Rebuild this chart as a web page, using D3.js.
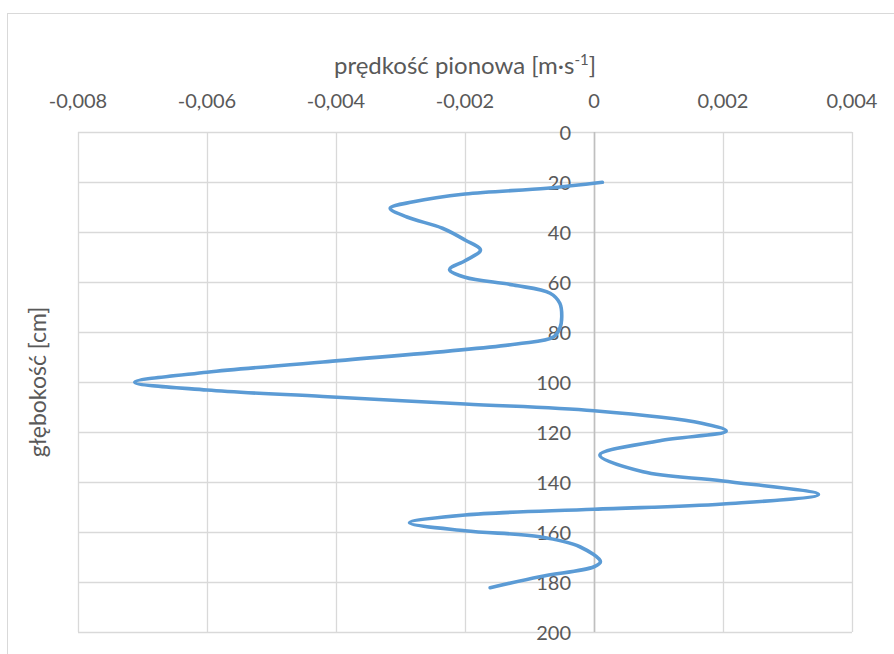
<!DOCTYPE html>
<html>
<head>
<meta charset="utf-8">
<script src="https://cdn.jsdelivr.net/npm/d3@7"></script>
<style>
  html, body { margin: 0; padding: 0; background: #ffffff; }
  svg { display: block; }
  text { font-family: Lato, "Open Sans", sans-serif; fill: #595959; }
</style>
</head>
<body>
<svg id="chart" width="894" height="654"></svg>
<script>
// ---- data ----
const depth = [20.1, 22.5, 24.8, 27.9, 30.5, 34.0, 38.5, 43.2, 47.2, 51.5, 55.0, 58.1, 61.2, 64.5, 68.5, 73.9, 78.5, 82.0, 84.8, 92.0, 96.1, 100.1, 103.2, 105.8, 108.8, 111.5, 116.5, 119.6, 123.5, 129.2, 135.9, 139.6, 145.0, 148.8, 150.9, 153.2, 156.3, 159.5, 161.9, 165.9, 171.9, 173.9, 177.9, 182.3];
const velocity = [0.00013, -0.00073, -0.0020, -0.0028, -0.00316, -0.0029, -0.00235, -0.0020, -0.00176, -0.0020, -0.00224, -0.0020, -0.00125, -0.00068, -0.00053, -0.0005, -0.00053, -0.00063, -0.0012, -0.0042, -0.0060, -0.00712, -0.0060, -0.0042, -0.0020, 0.0, 0.00167, 0.00205, 0.00102, 0.00009, 0.00076, 0.0020, 0.00348, 0.0020, 0.0, -0.0020, -0.00286, -0.0020, -0.00084, -0.00022, 0.0001, 0.0, -0.00084, -0.00161];
const xTicks = [-0.008, -0.006, -0.004, -0.002, 0, 0.002, 0.004];
const yTicks = [0, 20, 40, 60, 80, 100, 120, 140, 160, 180, 200];
const xTitle = "prędkość pionowa [m·s";
const xTitleSup = "-1";
const yTitle = "głębokość [cm]";

const svg = d3.select("#chart");

// outer chart frame
svg.append("rect")
  .attr("x", 7.5).attr("y", 13.5)
  .attr("width", 1000).attr("height", 1000)
  .attr("fill", "none").attr("stroke", "#D9D9D9").attr("stroke-width", 1);

const x = d3.scaleLinear().domain([-0.008, 0.004]).range([78, 852]);
const y = d3.scaleLinear().domain([0, 200]).range([132, 632]);

const fmtX = d => d === 0 ? "0" : (d < 0 ? "-" : "") + Math.abs(d).toFixed(3).replace(".", ",");

// vertical gridlines
svg.append("g").selectAll("line").data(xTicks).join("line")
  .attr("x1", d => Math.round(x(d)) + 0.5).attr("x2", d => Math.round(x(d)) + 0.5)
  .attr("y1", y(0)).attr("y2", y(200))
  .attr("stroke", "#D9D9D9").attr("stroke-width", 1.3);

// horizontal gridlines
svg.append("g").selectAll("line").data(yTicks).join("line")
  .attr("y1", d => Math.round(y(d)) + 0.5).attr("y2", d => Math.round(y(d)) + 0.5)
  .attr("x1", x(-0.008)).attr("x2", x(0.004))
  .attr("stroke", "#D9D9D9").attr("stroke-width", 1.3);

// vertical axis line at 0
svg.append("line")
  .attr("x1", Math.round(x(0)) + 0.5).attr("x2", Math.round(x(0)) + 0.5)
  .attr("y1", y(0)).attr("y2", y(200))
  .attr("stroke", "#BFBFBF").attr("stroke-width", 1.6);

// x tick labels (top)
svg.append("g").selectAll("text").data(xTicks).join("text")
  .attr("x", d => x(d)).attr("y", 108)
  .attr("text-anchor", "middle")
  .style("font-size", "20px")
  .text(fmtX);

// y tick labels (next to zero axis)
svg.append("g").selectAll("text").data(yTicks).join("text")
  .attr("x", x(0) - 23).attr("y", d => y(d))
  .attr("text-anchor", "end")
  .attr("dominant-baseline", "central")
  .style("font-size", "20px")
  .text(d => d);

// the line
const line = d3.line()
  .x((d, i) => x(velocity[i]))
  .y((d, i) => y(depth[i]))
  .curve(d3.curveCatmullRom.alpha(0.5));

svg.append("path")
  .datum(depth)
  .attr("d", line)
  .attr("fill", "none")
  .attr("stroke", "#5B9BD5")
  .attr("stroke-width", 3.6)
  .attr("stroke-linejoin", "round")
  .attr("stroke-linecap", "round");

// x title
const t = svg.append("text")
  .attr("x", (x(-0.008) + x(0.004)) / 2).attr("y", 74)
  .attr("text-anchor", "middle")
  .style("font-size", "24px");
t.append("tspan").text(xTitle);
t.append("tspan").attr("dy", -9).style("font-size", "15px").text(xTitleSup);
t.append("tspan").attr("dy", 9).text("]");

// y title
svg.append("text")
  .attr("transform", `translate(46, ${(y(0) + y(200)) / 2}) rotate(-90)`)
  .attr("text-anchor", "middle")
  .style("font-size", "23px")
  .text(yTitle);
</script>
</body>
</html>
